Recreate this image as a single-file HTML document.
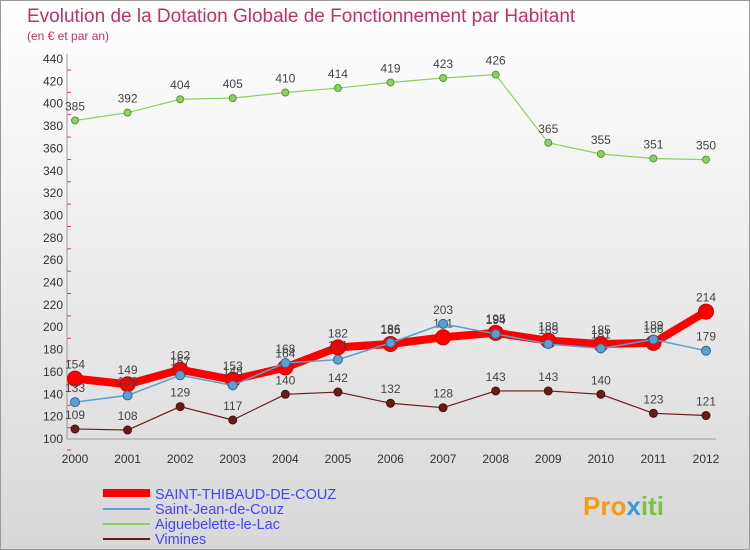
<!DOCTYPE html>
<html><head><meta charset="utf-8">
<style>
body{margin:0;width:750px;height:550px;overflow:hidden;font-family:"Liberation Sans",sans-serif;}
#wrap{position:relative;width:748px;height:548px;border:1px solid #999;background:linear-gradient(#fff,#d8d8d8);}
</style></head><body>
<div id="wrap">
<svg id="chart" width="750" height="550" style="position:absolute;left:-1px;top:-1px">
<text x="27" y="22" font-size="19" fill="#c0306a">Evolution de la Dotation Globale de Fonctionnement par Habitant</text>
<text x="27" y="40" font-size="12" fill="#c0306a">(en € et par an)</text>
<g id="grid"></g><g id="axes"></g><g id="series"></g>
<g>
<line x1="103" y1="493" x2="150" y2="493" stroke="#f00" stroke-width="8"/>
<text x="155" y="499" font-size="14.5" fill="#44f">SAINT-THIBAUD-DE-COUZ</text>
<line x1="103" y1="509" x2="150" y2="509" stroke="#5aa0d0" stroke-width="2"/>
<text x="155" y="514" font-size="14.5" fill="#44f">Saint-Jean-de-Couz</text>
<line x1="103" y1="524" x2="150" y2="524" stroke="#8ed060" stroke-width="2"/>
<text x="155" y="529" font-size="14.5" fill="#44f">Aiguebelette-le-Lac</text>
<line x1="103" y1="539" x2="150" y2="539" stroke="#6b1a1a" stroke-width="2"/>
<text x="155" y="544" font-size="14.5" fill="#44f">Vimines</text>
</g>
<text x="583" y="515" font-size="26" font-weight="bold" fill="#f39c12">Pro<tspan fill="#3a9ad9">x</tspan><tspan fill="#7cc242">iti</tspan></text>
</svg>
</div>
<script>
const years=[2000,2001,2002,2003,2004,2005,2006,2007,2008,2009,2010,2011,2012];
const yTicks=[100,120,140,160,180,200,220,240,260,280,300,320,340,360,380,400,420,440];
const stThibaud=[154,149,162,153,164,182,185,191,195,188,185,186,214];
const stJean=[133,139,157,148,168,171,186,203,194,185,181,189,179];
const aiguebelette=[385,392,404,405,410,414,419,423,426,365,355,351,350];
const vimines=[109,108,129,117,140,142,132,128,143,143,140,123,121];
const NS="http://www.w3.org/2000/svg";
const X0=75,X1=706,Y0=439,Y1=59,VMIN=100,VMAX=440;
function xs(i){return X0+(X1-X0)*i/(years.length-1);}
function ys(v){return Y0-(v-VMIN)*(Y0-Y1)/(VMAX-VMIN);}
function mk(t,a,p){const e=document.createElementNS(NS,t);for(const k in a)e.setAttribute(k,a[k]);p.appendChild(e);return e;}
const grid=document.getElementById('grid'),axes=document.getElementById('axes'),ser=document.getElementById('series');
yTicks.forEach(v=>{
 const l=mk('line',{x1:X0-8,x2:X0-4,y1:ys(v)+11,y2:ys(v)+11,stroke:'#e33','stroke-width':1},grid);
 
 
 const t=mk('text',{x:X0-12,y:ys(v)+4,'font-size':12,'text-anchor':'end',fill:'#333'},axes);
 t.textContent=v;
 
 
});
const ya=mk('line',{x1:X0-8,x2:X0-8,y1:Y1-5,y2:Y0,stroke:'#999'},axes);


const xa=mk('line',{x1:X0-8,x2:X1+10,y1:Y0,y2:Y0,stroke:'#999'},axes);


years.forEach((y,i)=>{
 const t=mk('text',{x:xs(i),y:Y0+24,'font-size':12,'text-anchor':'middle',fill:'#333'},axes);
 t.textContent=y;
 
 
});
function series(data,color,w,r,name,stroke){
 const g=mk('g',{},ser);
 
 
 const pl=mk('polyline',{points:data.map((v,i)=>xs(i)+','+ys(v)).join(' '),fill:'none',stroke:color,'stroke-width':w,'stroke-linejoin':'round'},g);
 
 
 data.forEach((v,i)=>{
  const c=mk('circle',{cx:xs(i),cy:ys(v),r:r,fill:color,stroke:stroke,'stroke-width':1},g);
  
  
  const t=mk('text',{x:xs(i),y:ys(v)-10,'font-size':12,'text-anchor':'middle',fill:'#444'},g);
  t.textContent=v;
  
  
 });
}
series(vimines,'#6b1a1a',1.2,4,'vimines','#4a1010');
series(aiguebelette,'#8ed060',1.2,3.5,'aiguebelette','#5a9a30');
series(stThibaud,'#f00',8,7.5,'saint-thibaud','#c00');
series(stJean,'#5aa0d0',1.5,4.5,'saint-jean','#2a6a9a');
</script>
</body></html>
